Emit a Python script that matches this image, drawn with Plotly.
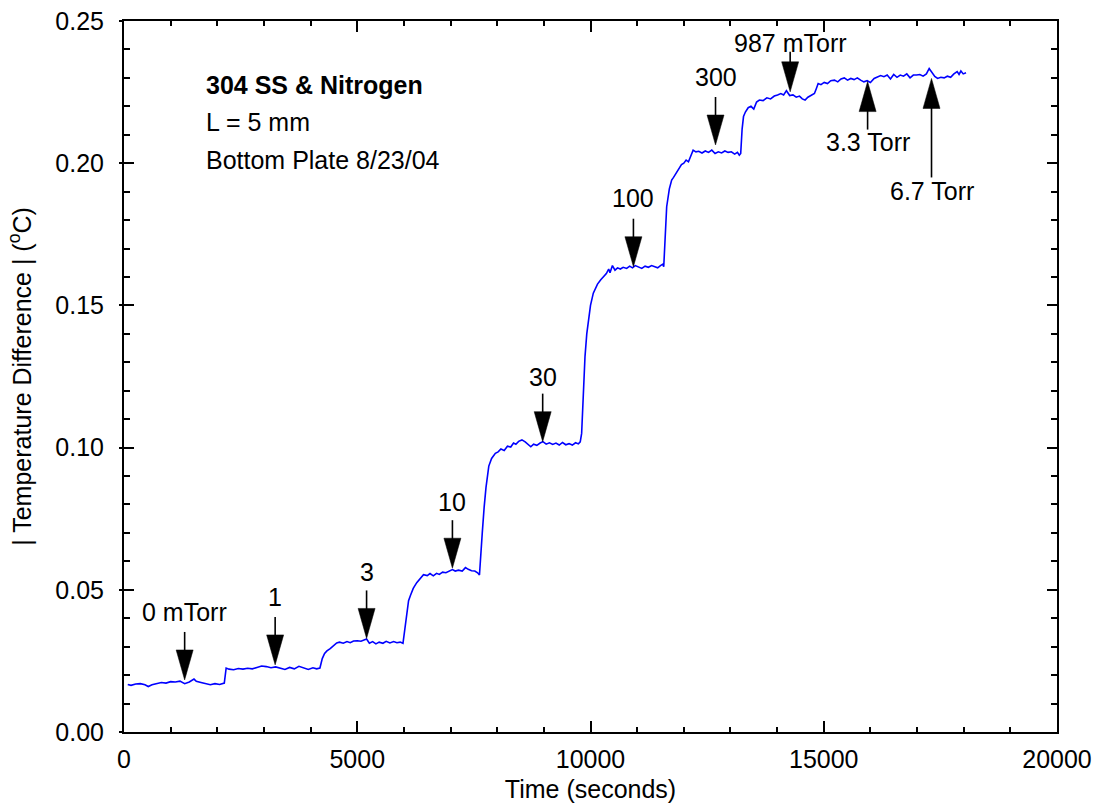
import plotly.graph_objects as go

# ---------------- data ----------------
t_0mtorr = [80, 150, 250, 350, 450, 520, 600, 700, 800, 900, 1000, 1100, 1200, 1300, 1400, 1500,
            1550, 1650, 1750, 1850, 1950, 2050, 2150]
dT_0mtorr = [0.0167, 0.0164, 0.0169, 0.0170, 0.0166, 0.0160, 0.0166, 0.0170, 0.0174, 0.0172, 0.0177,
             0.0176, 0.0179, 0.0170, 0.0176, 0.0186, 0.0178, 0.0174, 0.0169, 0.0166, 0.0170, 0.0167, 0.0172]

t_1mtorr = [2190, 2250, 2350, 2450, 2550, 2650, 2750, 2850, 2950, 3050, 3150, 3250, 3350, 3450, 3550,
            3650, 3750, 3850, 3950, 4050, 4130, 4200]
dT_1mtorr = [0.0225, 0.0221, 0.0219, 0.0223, 0.0221, 0.0224, 0.0222, 0.0227, 0.0232, 0.0230, 0.0226,
             0.0229, 0.0224, 0.0220, 0.0227, 0.0222, 0.0231, 0.0225, 0.0220, 0.0226, 0.0222, 0.0225]

t_3mtorr = [4250, 4300, 4350, 4420, 4500, 4560, 4620, 4700, 4780, 4850, 4920, 5000, 5080, 5150, 5200,
            5260, 5330, 5400, 5470, 5550, 5620, 5700, 5780, 5850, 5920, 5980]
dT_3mtorr = [0.0258, 0.0276, 0.0285, 0.0293, 0.0305, 0.0313, 0.0316, 0.0312, 0.0318, 0.0314, 0.0320,
             0.0321, 0.0319, 0.0323, 0.0327, 0.0312, 0.0318, 0.0310, 0.0316, 0.0312, 0.0319, 0.0313,
             0.0318, 0.0314, 0.0316, 0.0312]

t_10mtorr = [6020, 6060, 6100, 6140, 6200, 6275, 6350, 6420, 6500, 6560, 6630, 6700, 6760, 6830, 6900,
             6960, 7040, 7100, 7170, 7250, 7320, 7380, 7450, 7520, 7580, 7620]
dT_10mtorr = [0.0360, 0.0420, 0.0462, 0.0480, 0.0505, 0.0525, 0.0540, 0.0553, 0.0550, 0.0557, 0.0549,
              0.0558, 0.0554, 0.0562, 0.0560, 0.0566, 0.0571, 0.0566, 0.0569, 0.0566, 0.0578, 0.0572,
              0.0567, 0.0566, 0.0560, 0.0552]

t_30mtorr = [7640, 7680, 7720, 7760, 7820, 7880, 7960, 8020, 8080, 8150, 8220, 8290, 8350, 8400, 8460,
             8530, 8600, 8660, 8720, 8780, 8850, 8920, 8980, 9050, 9120, 9190, 9260, 9330, 9400, 9470,
             9540, 9610, 9680, 9740, 9780]
dT_30mtorr = [0.0610, 0.0700, 0.0790, 0.0860, 0.0935, 0.0962, 0.0980, 0.0985, 0.0995, 0.0990, 0.1005,
              0.1002, 0.1016, 0.1012, 0.1022, 0.1027, 0.1020, 0.1010, 0.1003, 0.1012, 0.1008, 0.1016,
              0.1021, 0.1012, 0.1017, 0.1011, 0.1016, 0.1009, 0.1018, 0.1010, 0.1014, 0.1009, 0.1017,
              0.1013, 0.1020]

t_100mtorr = [9810, 9846, 9882, 9920, 9953, 10000, 10060, 10150, 10220, 10275, 10340, 10390, 10418,
              10470, 10525, 10580, 10640, 10700, 10775, 10840, 10900, 10960, 11030, 11100, 11170,
              11240, 11310, 11380, 11440, 11500, 11550, 11570]
dT_100mtorr = [0.1050, 0.1200, 0.1320, 0.1400, 0.1449, 0.1500, 0.1543, 0.1575, 0.1590, 0.1601, 0.1612,
               0.1628, 0.1615, 0.1640, 0.1624, 0.1632, 0.1628, 0.1634, 0.1630, 0.1638, 0.1632, 0.1640,
               0.1636, 0.1630, 0.1638, 0.1634, 0.1640, 0.1635, 0.1632, 0.1640, 0.1645, 0.1636]

t_300mtorr = [11597, 11633, 11690, 11740, 11780, 11850, 11900, 11950, 12000, 12050, 12100, 12150,
              12200, 12260, 12320, 12390, 12460, 12530, 12600, 12670, 12740, 12810, 12880, 12950,
              13020, 13090, 13150, 13190, 13220]
dT_300mtorr = [0.1730, 0.1847, 0.1910, 0.1941, 0.1950, 0.1970, 0.1982, 0.1995, 0.2000, 0.2011, 0.2005,
               0.2025, 0.2046, 0.2040, 0.2042, 0.2036, 0.2043, 0.2038, 0.2046, 0.2034, 0.2040, 0.2036,
               0.2043, 0.2038, 0.2040, 0.2032, 0.2038, 0.2028, 0.2034]

t_987mtorr = [13250, 13280, 13320, 13380, 13440, 13500, 13560, 13620, 13700, 13780, 13860, 13940,
              14010, 14080, 14140, 14200, 14270, 14340, 14410, 14480, 14540, 14600, 14660, 14730,
              14800, 14840]
dT_987mtorr = [0.2120, 0.2164, 0.2180, 0.2195, 0.2200, 0.2190, 0.2215, 0.2222, 0.2220, 0.2230, 0.2226,
               0.2236, 0.2240, 0.2245, 0.2240, 0.2255, 0.2238, 0.2240, 0.2232, 0.2236, 0.2226, 0.2222,
               0.2232, 0.2240, 0.2245, 0.2262]

t_torr = [14880, 14940, 15010, 15080, 15150, 15230, 15300, 15370, 15440, 15510, 15580, 15650, 15720,
          15790, 15860, 15930, 16000, 16080, 16150, 16220, 16290, 16360, 16430, 16500, 16570, 16640,
          16710, 16780, 16850, 16920, 16990, 17060, 17130, 17200, 17260, 17320, 17380, 17440, 17510,
          17580, 17650, 17720, 17790, 17860, 17900, 17940, 17990, 18050]
dT_torr = [0.2280, 0.2276, 0.2284, 0.2280, 0.2290, 0.2292, 0.2286, 0.2296, 0.2300, 0.2292, 0.2298,
           0.2294, 0.2300, 0.2292, 0.2286, 0.2290, 0.2284, 0.2298, 0.2302, 0.2308, 0.2304, 0.2310,
           0.2296, 0.2312, 0.2302, 0.2310, 0.2306, 0.2314, 0.2300, 0.2310, 0.2310, 0.2312, 0.2306,
           0.2314, 0.2333, 0.2318, 0.2305, 0.2298, 0.2302, 0.2300, 0.2306, 0.2302, 0.2314, 0.2322,
           0.2312, 0.2324, 0.2314, 0.2318]

arrow_labels = ["0 mTorr", "1", "3", "10", "30", "100", "300", "987 mTorr", "3.3 Torr", "6.7 Torr"]
arrow_time = [1300, 3240, 5200, 7040, 8975, 10920, 12680, 14280, 15940, 17310]
arrow_value = [0.0183, 0.0236, 0.0329, 0.0576, 0.1021, 0.1636, 0.2064, 0.2251, 0.2287, 0.2298]
arrow_dir = ["down", "down", "down", "down", "down", "down", "down", "down", "up", "up"]

info_lines = ["<b>304 SS & Nitrogen</b>", "L = 5 mm", "Bottom Plate 8/23/04"]

x_ticks = [0, 5000, 10000, 15000, 20000]
x_ticktext = ["0", "5000", "10000", "15000", "20000"]
y_ticks = [0, 0.05, 0.10, 0.15, 0.20, 0.25]
x_range = [0, 20000]
y_range = [0, 0.25]

# ---------------- styling / layout (pixels) ----------------
label_offset_px = [68, 68, 66, 66, 65, 69, 68, 49, -60, -113]
shaft_px = [18, 18, 18, 18, 18, 18, 18, 10, 18, 69]
head_len = 30
head_half = 8.5
FONT = "Liberation Sans, Arial, Helvetica, sans-serif"
FS = 25

time_all = (t_0mtorr + t_1mtorr + t_3mtorr + t_10mtorr + t_30mtorr + t_100mtorr + t_300mtorr
            + t_987mtorr + t_torr)
dT_all = (dT_0mtorr + dT_1mtorr + dT_3mtorr + dT_10mtorr + dT_30mtorr + dT_100mtorr + dT_300mtorr
          + dT_987mtorr + dT_torr)

fig = go.Figure()
fig.add_trace(go.Scatter(x=time_all, y=dT_all, mode="lines",
                         line=dict(color="#0000ff", width=1.6), showlegend=False,
                         hoverinfo="skip"))
# empty trace to carry the overlay axis that draws the outer part of major y ticks
fig.add_trace(go.Scatter(x=[None], y=[None], yaxis="y2", showlegend=False, hoverinfo="skip"))

shapes = []
annotations = []
for lab, tx, ty, d, off, sh in zip(arrow_labels, arrow_time, arrow_value, arrow_dir,
                                   label_offset_px, shaft_px):
    sgn = 1 if d == "down" else -1
    shapes.append(dict(type="path", xref="x", yref="y", xsizemode="pixel", ysizemode="pixel",
                       xanchor=tx, yanchor=ty,
                       path=f"M0,0 L{-head_half},{sgn*head_len} L{head_half},{sgn*head_len} Z",
                       fillcolor="black", line=dict(color="black", width=0.5)))
    shapes.append(dict(type="line", xref="x", yref="y", xsizemode="pixel", ysizemode="pixel",
                       xanchor=tx, yanchor=ty, x0=0, x1=0,
                       y0=sgn*(head_len - 1), y1=sgn*(head_len + sh),
                       line=dict(color="black", width=1.6)))
    annotations.append(dict(x=tx, y=ty, xref="x", yref="y", text=lab, showarrow=False,
                            xanchor="center", yanchor="middle", yshift=off,
                            font=dict(family=FONT, size=FS, color="black")))

for i, line in enumerate(info_lines):
    annotations.append(dict(x=0.0857, y=0.91 - i * 0.0527, xref="paper", yref="paper", text=line,
                            showarrow=False, xanchor="left", yanchor="middle",
                            font=dict(family=FONT, size=FS, color="black")))

axis_common = dict(showline=True, linecolor="black", linewidth=2, mirror="ticks",
                   ticks="inside", tickcolor="black", tickwidth=1.5, showgrid=False,
                   zeroline=False, automargin=False,
                   tickfont=dict(family=FONT, size=FS, color="black"))

fig.update_layout(
    width=1099, height=806,
    margin=dict(l=124, r=42, t=21, b=74),
    paper_bgcolor="white", plot_bgcolor="white",
    xaxis=dict(range=x_range, tickvals=x_ticks, ticktext=x_ticktext, ticklen=11,
               minor=dict(ticks="inside", ticklen=5, dtick=1000, tickcolor="black", tickwidth=1.5),
               ticklabelstandoff=4,
               title=dict(text="Time (seconds)", standoff=8,
                          font=dict(family=FONT, size=FS, color="black")),
               **axis_common),
    yaxis=dict(range=y_range, tickvals=y_ticks, tickformat=".2f",
               ticklen=10,
               minor=dict(ticks="inside", ticklen=6, dtick=0.01, tickcolor="black", tickwidth=1.5),
               ticklabelstandoff=13,
               title=dict(text="| Temperature Difference | (<sup>o</sup>C)", standoff=17,
                          font=dict(family=FONT, size=FS, color="black")),
               **axis_common),
    yaxis2=dict(range=y_range, overlaying="y", side="left", anchor="x",
                tickvals=y_ticks, ticks="outside", ticklen=4, automargin=False,
                tickwidth=1.5, tickcolor="black", showticklabels=False, showline=False,
                showgrid=False, zeroline=False),
    shapes=shapes,
    annotations=annotations,
)

fig.write_html("out.html")
